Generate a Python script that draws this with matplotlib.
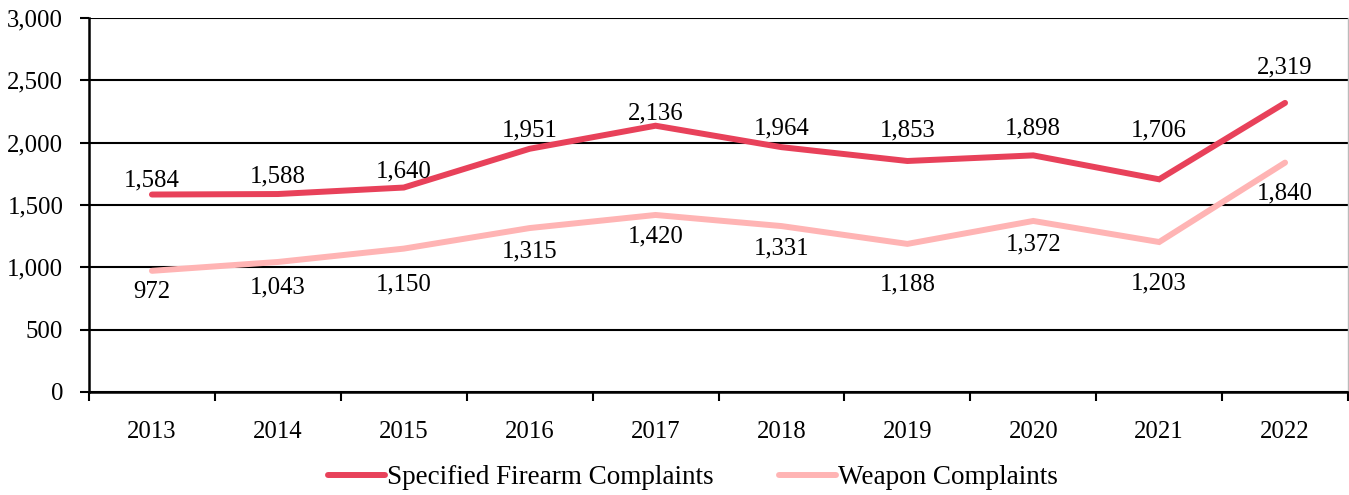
import matplotlib
matplotlib.use("Agg")
import matplotlib.pyplot as plt
from matplotlib.ticker import FixedLocator, FuncFormatter

years = ["2013", "2014", "2015", "2016", "2017", "2018", "2019", "2020", "2021", "2022"]
firearm = [1584, 1588, 1640, 1951, 2136, 1964, 1853, 1898, 1706, 2319]
weapon = [972, 1043, 1150, 1315, 1420, 1331, 1188, 1372, 1203, 1840]
series_names = ["Specified Firearm Complaints", "Weapon Complaints"]
y_ticks = [0, 500, 1000, 1500, 2000, 2500, 3000]

# label offsets (pixels, from point to label digit centre) as placed in the original
firearm_label_dy = [16, 20, 18, 21, 15, 21.5, 33, 29, 51.5, 38]
weapon_label_dy = [-19, -23, -33, -21, -19, -20, -38, -21.5, -39, -28]

red = "#E8415A"
pink = "#FFB4B4"
FS = 17.8
plt.rcParams['font.family'] = ['Liberation Serif', 'DejaVu Serif']

fig = plt.figure(figsize=(13.49, 4.95), dpi=100)
ax = fig.add_axes([89/1349, 1-392/495, 1-89/1349-1/1349, (392-18)/495])

x = list(range(len(years)))
ax.plot(x, firearm, color=red, lw=4.3, solid_capstyle='round', solid_joinstyle='miter', label=series_names[0], zorder=3)
ax.plot(x, weapon, color=pink, lw=4.3, solid_capstyle='round', solid_joinstyle='miter', label=series_names[1], zorder=3)

px2pt = 72 / 100
half_digit = 0.338 * FS / px2pt  # half digit height in px
for vals, dys in ((firearm, firearm_label_dy), (weapon, weapon_label_dy)):
    for xi, v, d in zip(x, vals, dys):
        ax.annotate(f"{v:,}", (xi, v), xytext=(0, (d - half_digit) * px2pt), textcoords='offset points',
                    ha='center', va='baseline', fontsize=FS, color='black')

ax.set_xlim(-0.5, len(years) - 0.5)
ax.set_ylim(0, 3000)
ax.yaxis.set_major_locator(FixedLocator(y_ticks))
ax.yaxis.set_major_formatter(FuncFormatter(lambda v, p: f"{int(v):,}"))
ax.set_xticks(x)
ax.set_xticklabels(years)
ax.set_xticks([i - 0.5 for i in range(len(years) + 1)], minor=True)
ax.tick_params(axis='x', which='major', length=0, pad=21, labelsize=FS)
ax.tick_params(axis='x', which='minor', length=6.5, width=1.5, direction='out', color='black')
ax.tick_params(axis='y', which='major', length=6.5, width=1.5, direction='out', pad=12, labelsize=FS)

ax.grid(axis='y', color='black', lw=1.5, zorder=1)
ax.spines['top'].set_visible(False)
ax.spines['right'].set_color('#BBBBBB')
ax.spines['right'].set_linewidth(1.0)
ax.spines['left'].set_linewidth(1.8)
ax.spines['bottom'].set_linewidth(1.8)

fig.legend(loc='center', bbox_to_anchor=(693/1349, 1-478/495), ncol=2, frameon=False,
           fontsize=19.5, handlelength=2.1, handletextpad=0.1, columnspacing=2.4)

fig.savefig("out.png", dpi=100)
